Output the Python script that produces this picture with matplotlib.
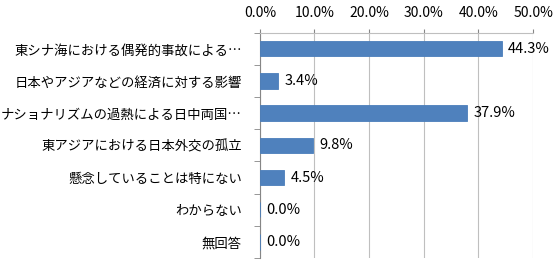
import matplotlib
matplotlib.use("Agg")
import matplotlib.pyplot as plt
from matplotlib.ticker import FuncFormatter

plt.rcParams['font.family'] = ['Noto Sans CJK JP', 'DejaVu Sans']

# data
categories = [
    "東シナ海における偶発的事故による…",
    "日本やアジアなどの経済に対する影響",
    "ナショナリズムの過熱による日中両国…",
    "東アジアにおける日本外交の孤立",
    "懸念していることは特にない",
    "わからない",
    "無回答",
]
values = [44.3, 3.4, 37.9, 9.8, 4.5, 0.0, 0.0]
xticks = [0, 10, 20, 30, 40, 50]

fig = plt.figure(figsize=(5.6, 2.63), dpi=100)
ax = fig.add_axes([0.464, 0.019, 0.488, 0.857])

y = list(range(len(categories)))
ax.barh(y, values, height=0.48, color="#4F81BD", edgecolor="#4A7EBB", linewidth=0.6, zorder=3)

for yi, v in zip(y, values):
    ax.annotate(f"{v:.1f}%", (v, yi), xytext=(4.5, 0), textcoords="offset points",
                va="center", ha="left", fontsize=10.5, color="black")

ax.set_xlim(0, 50)
ax.set_ylim(len(categories) - 0.5, -0.5)
ax.set_xticks(xticks)
ax.xaxis.set_major_formatter(FuncFormatter(lambda v, p: f"{v:.1f}%"))
ax.xaxis.tick_top()
ax.tick_params(axis="x", length=3, color="#868686", labelsize=10, pad=6)

ax.set_yticks(y)
ax.set_yticklabels(categories, fontsize=9.6)
ax.set_yticks([i - 0.5 for i in range(len(categories) + 1)], minor=True)
ax.tick_params(axis="y", which="major", length=0, pad=13)
ax.tick_params(axis="y", which="minor", length=4, color="#868686")

ax.grid(axis="x", color="#BFBFBF", linewidth=0.8, zorder=0)
for s in ["right", "bottom"]:
    ax.spines[s].set_visible(False)
ax.spines["left"].set_color("#868686")
ax.spines["top"].set_color("#BFBFBF")

fig.savefig("out.png", dpi=100)
